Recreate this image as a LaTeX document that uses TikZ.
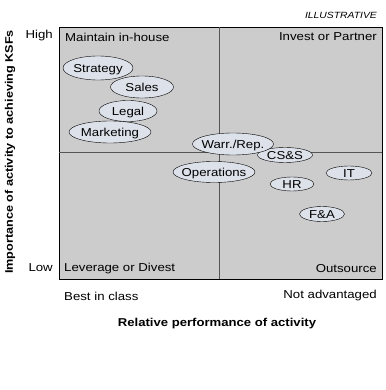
\documentclass[tikz,border=0pt]{standalone}
\usepackage{fontspec}
\setmainfont[FakeStretch=1.15]{Liberation Sans}
\usepackage{xcolor}
\usetikzlibrary{shapes,positioning}

\definecolor{quadgrey}{HTML}{CCCCCC}
\definecolor{bubblefill}{HTML}{DDE2EA}
\definecolor{divgrey}{HTML}{555555}

% text set on the centre of an activity bubble, without taking room
\newcommand{\actname}[1]{\makebox[0pt]{\raisebox{-.36em}[0pt][0pt]{#1}}}

\begin{document}
\begin{tikzpicture}[
    x=1pt, y=-1pt,
    activity/.style={ellipse, draw=black, fill=bubblefill, inner sep=0pt, font=\fontsize{11.5}{13}\selectfont},
    corner/.style={font=\fontsize{11.5}{13}\selectfont, inner sep=0pt},
    axislabel/.style={font=\bfseries\fontsize{11.4}{13}\selectfont, inner sep=0pt}
]
\useasboundingbox (0,0) rectangle (385,390);

% quadrants
\draw[fill=quadgrey] (59,27) rectangle (382,279);
\draw[divgrey] (219,27) -- (219,279);
\draw[divgrey] (59,152) -- (382,152);

\node[corner, anchor=west] (inhouse) at (65,37) {Maintain in-house};
\node[corner, anchor=east] (partner) at (377,37) {Invest or Partner};
\node[corner, anchor=west] (divest) at (64,269) {Leverage or Divest};
\node[corner, anchor=east] (outsrc) at (377,269) {Outsource};

% axes
\node[corner, anchor=east] (high) at (53,36) {High};
\node[corner, anchor=east] (low) at (53,268) {Low};
\node[corner, anchor=west] (best) at (64,296) {Best in class};
\node[corner, anchor=east] (notadv) at (377,296) {Not advantaged};
\node[axislabel] (xlabel) at (217,324) {Relative performance of activity};
\node[axislabel, rotate=90, font=\bfseries\fontsize{11}{12}\selectfont] (ylabel) at (10,152) {Importance of activity to achieving KSFs};
\node[corner, anchor=east, font=\itshape\fontsize{9}{10}\selectfont] (illus) at (377,15) {ILLUSTRATIVE};

% activities
\node[activity, minimum width=70, minimum height=24] (strategy) at (98,68) {\actname{Strategy}};
\node[activity, minimum width=63, minimum height=22] (sales) at (142,87) {\actname{Sales}};
\node[activity, minimum width=58, minimum height=21] (legal) at (128,111) {\actname{Legal}};
\node[activity, minimum width=82, minimum height=22] (marketing) at (110,132) {\actname{Marketing}};
\node[activity, minimum width=55, minimum height=15] (css) at (285,155) {\actname{CS\&S}};
\node[activity, minimum width=81, minimum height=22] (warr) at (233,144) {\actname{Warr./Rep.}};
\node[activity, minimum width=82, minimum height=21] (ops) at (214,172) {\actname{Operations}};
\node[activity, minimum width=46, minimum height=14] (it) at (349,173) {\actname{IT}};
\node[activity, minimum width=44, minimum height=14] (hr) at (292,184) {\actname{HR}};
\node[activity, minimum width=45, minimum height=15] (fa) at (322,214) {\actname{F\&A}};

\end{tikzpicture}
\end{document}
